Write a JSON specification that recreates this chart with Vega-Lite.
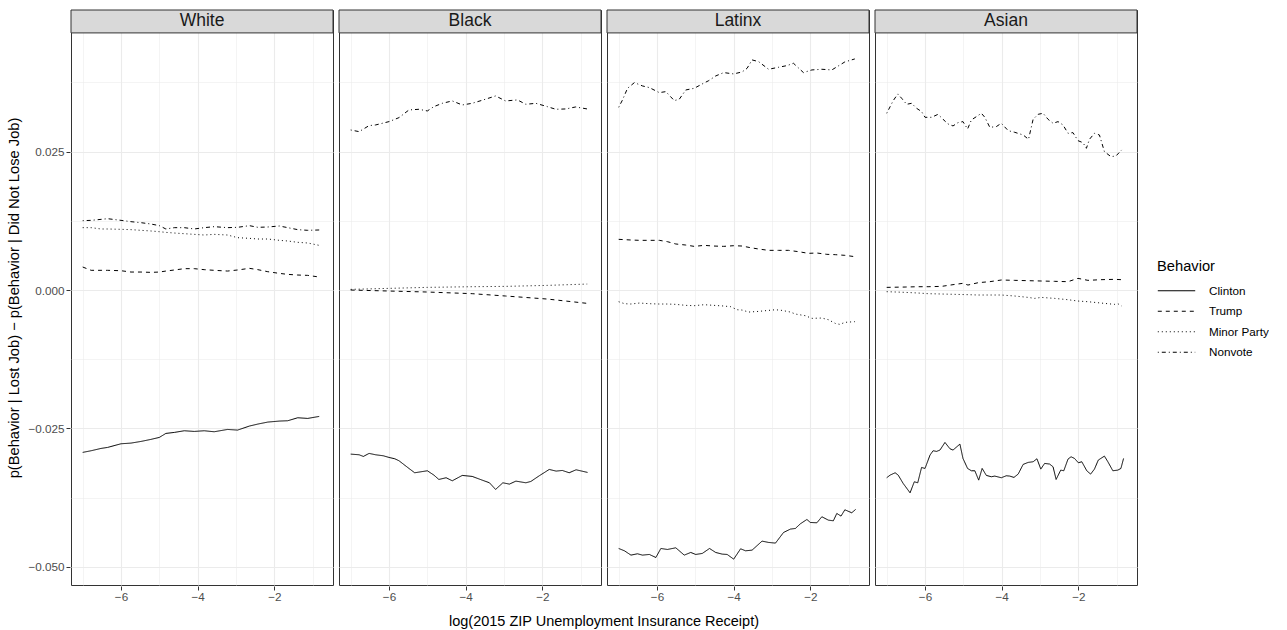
{
"$schema": "https://vega.github.io/schema/vega-lite/v6.json",
"padding": {"left": 6, "top": 9, "right": 0, "bottom": 0},
"config": {
  "font": "Liberation Sans",
  "view": {"stroke": "#333333", "strokeWidth": 1},
  "line": {"color": "black"}
},
"data": {"values": [
{"race":"White","Behavior":"Nonvote","x":-7.0,"y":0.01253},{"race":"White","Behavior":"Nonvote","x":-6.78,"y":0.01259},{"race":"White","Behavior":"Nonvote","x":-6.52,"y":0.01277},{"race":"White","Behavior":"Nonvote","x":-6.35,"y":0.01289},{"race":"White","Behavior":"Nonvote","x":-6.0,"y":0.01259},{"race":"White","Behavior":"Nonvote","x":-5.74,"y":0.01235},{"race":"White","Behavior":"Nonvote","x":-5.48,"y":0.01217},{"race":"White","Behavior":"Nonvote","x":-5.22,"y":0.01193},{"race":"White","Behavior":"Nonvote","x":-5.0,"y":0.01163},{"race":"White","Behavior":"Nonvote","x":-4.83,"y":0.01103},{"race":"White","Behavior":"Nonvote","x":-4.61,"y":0.01127},{"race":"White","Behavior":"Nonvote","x":-4.35,"y":0.01127},{"race":"White","Behavior":"Nonvote","x":-4.09,"y":0.01103},{"race":"White","Behavior":"Nonvote","x":-3.83,"y":0.01127},{"race":"White","Behavior":"Nonvote","x":-3.57,"y":0.01145},{"race":"White","Behavior":"Nonvote","x":-3.22,"y":0.01127},{"race":"White","Behavior":"Nonvote","x":-2.96,"y":0.01133},{"race":"White","Behavior":"Nonvote","x":-2.65,"y":0.01163},{"race":"White","Behavior":"Nonvote","x":-2.43,"y":0.01133},{"race":"White","Behavior":"Nonvote","x":-2.17,"y":0.01139},{"race":"White","Behavior":"Nonvote","x":-1.87,"y":0.01157},{"race":"White","Behavior":"Nonvote","x":-1.65,"y":0.01127},{"race":"White","Behavior":"Nonvote","x":-1.39,"y":0.01091},{"race":"White","Behavior":"Nonvote","x":-1.13,"y":0.01079},{"race":"White","Behavior":"Nonvote","x":-0.83,"y":0.01085},
{"race":"White","Behavior":"Minor Party","x":-7.0,"y":0.01127},{"race":"White","Behavior":"Minor Party","x":-6.78,"y":0.01127},{"race":"White","Behavior":"Minor Party","x":-6.52,"y":0.01103},{"race":"White","Behavior":"Minor Party","x":-6.35,"y":0.01103},{"race":"White","Behavior":"Minor Party","x":-6.0,"y":0.01097},{"race":"White","Behavior":"Minor Party","x":-5.74,"y":0.01091},{"race":"White","Behavior":"Minor Party","x":-5.48,"y":0.01079},{"race":"White","Behavior":"Minor Party","x":-5.22,"y":0.01067},{"race":"White","Behavior":"Minor Party","x":-5.0,"y":0.01054},{"race":"White","Behavior":"Minor Party","x":-4.83,"y":0.01042},{"race":"White","Behavior":"Minor Party","x":-4.61,"y":0.0103},{"race":"White","Behavior":"Minor Party","x":-4.35,"y":0.01018},{"race":"White","Behavior":"Minor Party","x":-4.09,"y":0.01006},{"race":"White","Behavior":"Minor Party","x":-3.83,"y":0.00994},{"race":"White","Behavior":"Minor Party","x":-3.57,"y":0.01006},{"race":"White","Behavior":"Minor Party","x":-3.22,"y":0.00994},{"race":"White","Behavior":"Minor Party","x":-2.96,"y":0.00946},{"race":"White","Behavior":"Minor Party","x":-2.65,"y":0.00934},{"race":"White","Behavior":"Minor Party","x":-2.43,"y":0.00922},{"race":"White","Behavior":"Minor Party","x":-2.17,"y":0.00922},{"race":"White","Behavior":"Minor Party","x":-1.87,"y":0.00898},{"race":"White","Behavior":"Minor Party","x":-1.65,"y":0.00886},{"race":"White","Behavior":"Minor Party","x":-1.39,"y":0.00862},{"race":"White","Behavior":"Minor Party","x":-1.13,"y":0.0085},{"race":"White","Behavior":"Minor Party","x":-0.83,"y":0.00807},
{"race":"White","Behavior":"Trump","x":-7.0,"y":0.00416},{"race":"White","Behavior":"Trump","x":-6.78,"y":0.00356},{"race":"White","Behavior":"Trump","x":-6.52,"y":0.00356},{"race":"White","Behavior":"Trump","x":-6.35,"y":0.00356},{"race":"White","Behavior":"Trump","x":-6.0,"y":0.00349},{"race":"White","Behavior":"Trump","x":-5.74,"y":0.00325},{"race":"White","Behavior":"Trump","x":-5.48,"y":0.00325},{"race":"White","Behavior":"Trump","x":-5.22,"y":0.00319},{"race":"White","Behavior":"Trump","x":-5.0,"y":0.00325},{"race":"White","Behavior":"Trump","x":-4.83,"y":0.00343},{"race":"White","Behavior":"Trump","x":-4.61,"y":0.00362},{"race":"White","Behavior":"Trump","x":-4.35,"y":0.00386},{"race":"White","Behavior":"Trump","x":-4.09,"y":0.00386},{"race":"White","Behavior":"Trump","x":-3.83,"y":0.00368},{"race":"White","Behavior":"Trump","x":-3.57,"y":0.00356},{"race":"White","Behavior":"Trump","x":-3.22,"y":0.00343},{"race":"White","Behavior":"Trump","x":-2.96,"y":0.00362},{"race":"White","Behavior":"Trump","x":-2.65,"y":0.00392},{"race":"White","Behavior":"Trump","x":-2.43,"y":0.00368},{"race":"White","Behavior":"Trump","x":-2.17,"y":0.00331},{"race":"White","Behavior":"Trump","x":-1.87,"y":0.00301},{"race":"White","Behavior":"Trump","x":-1.65,"y":0.00283},{"race":"White","Behavior":"Trump","x":-1.39,"y":0.00271},{"race":"White","Behavior":"Trump","x":-1.13,"y":0.00265},{"race":"White","Behavior":"Trump","x":-0.83,"y":0.00235},
{"race":"White","Behavior":"Clinton","x":-7.0,"y":-0.02934},{"race":"White","Behavior":"Clinton","x":-6.78,"y":-0.02904},{"race":"White","Behavior":"Clinton","x":-6.52,"y":-0.02862},{"race":"White","Behavior":"Clinton","x":-6.35,"y":-0.02844},{"race":"White","Behavior":"Clinton","x":-6.0,"y":-0.02778},{"race":"White","Behavior":"Clinton","x":-5.74,"y":-0.02766},{"race":"White","Behavior":"Clinton","x":-5.48,"y":-0.02736},{"race":"White","Behavior":"Clinton","x":-5.22,"y":-0.02699},{"race":"White","Behavior":"Clinton","x":-5.0,"y":-0.02663},{"race":"White","Behavior":"Clinton","x":-4.83,"y":-0.02591},{"race":"White","Behavior":"Clinton","x":-4.61,"y":-0.02573},{"race":"White","Behavior":"Clinton","x":-4.35,"y":-0.02543},{"race":"White","Behavior":"Clinton","x":-4.09,"y":-0.02555},{"race":"White","Behavior":"Clinton","x":-3.83,"y":-0.02543},{"race":"White","Behavior":"Clinton","x":-3.57,"y":-0.02561},{"race":"White","Behavior":"Clinton","x":-3.22,"y":-0.02519},{"race":"White","Behavior":"Clinton","x":-2.96,"y":-0.02531},{"race":"White","Behavior":"Clinton","x":-2.65,"y":-0.02458},{"race":"White","Behavior":"Clinton","x":-2.43,"y":-0.02422},{"race":"White","Behavior":"Clinton","x":-2.17,"y":-0.02386},{"race":"White","Behavior":"Clinton","x":-1.87,"y":-0.02368},{"race":"White","Behavior":"Clinton","x":-1.65,"y":-0.02362},{"race":"White","Behavior":"Clinton","x":-1.39,"y":-0.02308},{"race":"White","Behavior":"Clinton","x":-1.13,"y":-0.0232},{"race":"White","Behavior":"Clinton","x":-0.83,"y":-0.02284},
{"race":"Black","Behavior":"Nonvote","x":-7.0,"y":0.02892},{"race":"Black","Behavior":"Nonvote","x":-6.78,"y":0.02862},{"race":"Black","Behavior":"Nonvote","x":-6.52,"y":0.02971},{"race":"Black","Behavior":"Nonvote","x":-6.35,"y":0.02983},{"race":"Black","Behavior":"Nonvote","x":-6.0,"y":0.03043},{"race":"Black","Behavior":"Nonvote","x":-5.74,"y":0.03115},{"race":"Black","Behavior":"Nonvote","x":-5.48,"y":0.03254},{"race":"Black","Behavior":"Nonvote","x":-5.22,"y":0.03266},{"race":"Black","Behavior":"Nonvote","x":-5.0,"y":0.03236},{"race":"Black","Behavior":"Nonvote","x":-4.83,"y":0.03314},{"race":"Black","Behavior":"Nonvote","x":-4.61,"y":0.03374},{"race":"Black","Behavior":"Nonvote","x":-4.35,"y":0.03417},{"race":"Black","Behavior":"Nonvote","x":-4.09,"y":0.03344},{"race":"Black","Behavior":"Nonvote","x":-3.83,"y":0.03374},{"race":"Black","Behavior":"Nonvote","x":-3.57,"y":0.03429},{"race":"Black","Behavior":"Nonvote","x":-3.22,"y":0.03507},{"race":"Black","Behavior":"Nonvote","x":-2.96,"y":0.03417},{"race":"Black","Behavior":"Nonvote","x":-2.65,"y":0.03435},{"race":"Black","Behavior":"Nonvote","x":-2.43,"y":0.03356},{"race":"Black","Behavior":"Nonvote","x":-2.17,"y":0.03374},{"race":"Black","Behavior":"Nonvote","x":-1.87,"y":0.03314},{"race":"Black","Behavior":"Nonvote","x":-1.65,"y":0.03266},{"race":"Black","Behavior":"Nonvote","x":-1.39,"y":0.03272},{"race":"Black","Behavior":"Nonvote","x":-1.13,"y":0.03308},{"race":"Black","Behavior":"Nonvote","x":-0.83,"y":0.03272},
{"race":"Black","Behavior":"Minor Party","x":-7.0,"y":0.00012},{"race":"Black","Behavior":"Minor Party","x":-6.0,"y":0.0003},{"race":"Black","Behavior":"Minor Party","x":-5.0,"y":0.00048},{"race":"Black","Behavior":"Minor Party","x":-3.83,"y":0.0006},{"race":"Black","Behavior":"Minor Party","x":-2.96,"y":0.00066},{"race":"Black","Behavior":"Minor Party","x":-1.87,"y":0.00084},{"race":"Black","Behavior":"Minor Party","x":-0.83,"y":0.00108},
{"race":"Black","Behavior":"Trump","x":-7.0,"y":0.0},{"race":"Black","Behavior":"Trump","x":-6.0,"y":-0.00018},{"race":"Black","Behavior":"Trump","x":-5.0,"y":-0.00036},{"race":"Black","Behavior":"Trump","x":-3.83,"y":-0.00066},{"race":"Black","Behavior":"Trump","x":-2.96,"y":-0.00108},{"race":"Black","Behavior":"Trump","x":-1.87,"y":-0.00163},{"race":"Black","Behavior":"Trump","x":-0.83,"y":-0.00241},
{"race":"Black","Behavior":"Clinton","x":-7.0,"y":-0.02965},{"race":"Black","Behavior":"Clinton","x":-6.78,"y":-0.02977},{"race":"Black","Behavior":"Clinton","x":-6.67,"y":-0.03007},{"race":"Black","Behavior":"Clinton","x":-6.52,"y":-0.02952},{"race":"Black","Behavior":"Clinton","x":-6.35,"y":-0.02977},{"race":"Black","Behavior":"Clinton","x":-6.15,"y":-0.02995},{"race":"Black","Behavior":"Clinton","x":-6.0,"y":-0.03025},{"race":"Black","Behavior":"Clinton","x":-5.85,"y":-0.03049},{"race":"Black","Behavior":"Clinton","x":-5.74,"y":-0.03085},{"race":"Black","Behavior":"Clinton","x":-5.48,"y":-0.03224},{"race":"Black","Behavior":"Clinton","x":-5.33,"y":-0.03302},{"race":"Black","Behavior":"Clinton","x":-5.22,"y":-0.0329},{"race":"Black","Behavior":"Clinton","x":-5.0,"y":-0.03266},{"race":"Black","Behavior":"Clinton","x":-4.83,"y":-0.03344},{"race":"Black","Behavior":"Clinton","x":-4.7,"y":-0.03423},{"race":"Black","Behavior":"Clinton","x":-4.51,"y":-0.03392},{"race":"Black","Behavior":"Clinton","x":-4.35,"y":-0.03447},{"race":"Black","Behavior":"Clinton","x":-4.09,"y":-0.0335},{"race":"Black","Behavior":"Clinton","x":-3.83,"y":-0.03368},{"race":"Black","Behavior":"Clinton","x":-3.57,"y":-0.03435},{"race":"Black","Behavior":"Clinton","x":-3.38,"y":-0.03483},{"race":"Black","Behavior":"Clinton","x":-3.22,"y":-0.03603},{"race":"Black","Behavior":"Clinton","x":-3.03,"y":-0.03483},{"race":"Black","Behavior":"Clinton","x":-2.86,"y":-0.03507},{"race":"Black","Behavior":"Clinton","x":-2.69,"y":-0.03453},{"race":"Black","Behavior":"Clinton","x":-2.43,"y":-0.03483},{"race":"Black","Behavior":"Clinton","x":-2.3,"y":-0.03459},{"race":"Black","Behavior":"Clinton","x":-2.08,"y":-0.03356},{"race":"Black","Behavior":"Clinton","x":-1.82,"y":-0.03242},{"race":"Black","Behavior":"Clinton","x":-1.64,"y":-0.03272},{"race":"Black","Behavior":"Clinton","x":-1.48,"y":-0.0326},{"race":"Black","Behavior":"Clinton","x":-1.3,"y":-0.03302},{"race":"Black","Behavior":"Clinton","x":-1.12,"y":-0.03248},{"race":"Black","Behavior":"Clinton","x":-0.82,"y":-0.03296},
{"race":"Latinx","Behavior":"Nonvote","x":-7.0,"y":0.03302},{"race":"Latinx","Behavior":"Nonvote","x":-6.9,"y":0.03435},{"race":"Latinx","Behavior":"Nonvote","x":-6.77,"y":0.03645},{"race":"Latinx","Behavior":"Nonvote","x":-6.59,"y":0.03748},{"race":"Latinx","Behavior":"Nonvote","x":-6.38,"y":0.03688},{"race":"Latinx","Behavior":"Nonvote","x":-6.2,"y":0.03658},{"race":"Latinx","Behavior":"Nonvote","x":-5.94,"y":0.03567},{"race":"Latinx","Behavior":"Nonvote","x":-5.77,"y":0.03585},{"race":"Latinx","Behavior":"Nonvote","x":-5.55,"y":0.03423},{"race":"Latinx","Behavior":"Nonvote","x":-5.42,"y":0.03447},{"race":"Latinx","Behavior":"Nonvote","x":-5.25,"y":0.03615},{"race":"Latinx","Behavior":"Nonvote","x":-5.03,"y":0.03645},{"race":"Latinx","Behavior":"Nonvote","x":-4.82,"y":0.03724},{"race":"Latinx","Behavior":"Nonvote","x":-4.65,"y":0.03784},{"race":"Latinx","Behavior":"Nonvote","x":-4.47,"y":0.03868},{"race":"Latinx","Behavior":"Nonvote","x":-4.26,"y":0.03929},{"race":"Latinx","Behavior":"Nonvote","x":-4.0,"y":0.03905},{"race":"Latinx","Behavior":"Nonvote","x":-3.78,"y":0.03941},{"race":"Latinx","Behavior":"Nonvote","x":-3.65,"y":0.04007},{"race":"Latinx","Behavior":"Nonvote","x":-3.52,"y":0.04158},{"race":"Latinx","Behavior":"Nonvote","x":-3.35,"y":0.04127},{"race":"Latinx","Behavior":"Nonvote","x":-3.09,"y":0.03989},{"race":"Latinx","Behavior":"Nonvote","x":-2.83,"y":0.04025},{"race":"Latinx","Behavior":"Nonvote","x":-2.61,"y":0.04055},{"race":"Latinx","Behavior":"Nonvote","x":-2.44,"y":0.04097},{"race":"Latinx","Behavior":"Nonvote","x":-2.18,"y":0.03929},{"race":"Latinx","Behavior":"Nonvote","x":-1.96,"y":0.03977},{"race":"Latinx","Behavior":"Nonvote","x":-1.7,"y":0.03989},{"race":"Latinx","Behavior":"Nonvote","x":-1.44,"y":0.03977},{"race":"Latinx","Behavior":"Nonvote","x":-1.27,"y":0.04049},{"race":"Latinx","Behavior":"Nonvote","x":-1.1,"y":0.04122},{"race":"Latinx","Behavior":"Nonvote","x":-0.84,"y":0.04176},
{"race":"Latinx","Behavior":"Trump","x":-7.0,"y":0.00916},{"race":"Latinx","Behavior":"Trump","x":-6.68,"y":0.00904},{"race":"Latinx","Behavior":"Trump","x":-6.46,"y":0.00898},{"race":"Latinx","Behavior":"Trump","x":-6.2,"y":0.00898},{"race":"Latinx","Behavior":"Trump","x":-5.94,"y":0.00898},{"race":"Latinx","Behavior":"Trump","x":-5.73,"y":0.00874},{"race":"Latinx","Behavior":"Trump","x":-5.51,"y":0.00832},{"race":"Latinx","Behavior":"Trump","x":-5.25,"y":0.00813},{"race":"Latinx","Behavior":"Trump","x":-5.03,"y":0.00789},{"race":"Latinx","Behavior":"Trump","x":-4.77,"y":0.00807},{"race":"Latinx","Behavior":"Trump","x":-4.52,"y":0.00795},{"race":"Latinx","Behavior":"Trump","x":-4.26,"y":0.00789},{"race":"Latinx","Behavior":"Trump","x":-4.0,"y":0.00801},{"race":"Latinx","Behavior":"Trump","x":-3.78,"y":0.00795},{"race":"Latinx","Behavior":"Trump","x":-3.56,"y":0.00765},{"race":"Latinx","Behavior":"Trump","x":-3.35,"y":0.00741},{"race":"Latinx","Behavior":"Trump","x":-3.09,"y":0.00717},{"race":"Latinx","Behavior":"Trump","x":-2.83,"y":0.00717},{"race":"Latinx","Behavior":"Trump","x":-2.57,"y":0.00717},{"race":"Latinx","Behavior":"Trump","x":-2.31,"y":0.00693},{"race":"Latinx","Behavior":"Trump","x":-2.05,"y":0.00663},{"race":"Latinx","Behavior":"Trump","x":-1.83,"y":0.00669},{"race":"Latinx","Behavior":"Trump","x":-1.57,"y":0.00645},{"race":"Latinx","Behavior":"Trump","x":-1.35,"y":0.00639},{"race":"Latinx","Behavior":"Trump","x":-1.1,"y":0.00627},{"race":"Latinx","Behavior":"Trump","x":-0.84,"y":0.00603},
{"race":"Latinx","Behavior":"Minor Party","x":-7.0,"y":-0.00211},{"race":"Latinx","Behavior":"Minor Party","x":-6.85,"y":-0.00247},{"race":"Latinx","Behavior":"Minor Party","x":-6.68,"y":-0.00253},{"race":"Latinx","Behavior":"Minor Party","x":-6.46,"y":-0.00235},{"race":"Latinx","Behavior":"Minor Party","x":-6.2,"y":-0.00247},{"race":"Latinx","Behavior":"Minor Party","x":-5.94,"y":-0.00253},{"race":"Latinx","Behavior":"Minor Party","x":-5.73,"y":-0.00253},{"race":"Latinx","Behavior":"Minor Party","x":-5.51,"y":-0.00259},{"race":"Latinx","Behavior":"Minor Party","x":-5.25,"y":-0.00277},{"race":"Latinx","Behavior":"Minor Party","x":-5.03,"y":-0.00283},{"race":"Latinx","Behavior":"Minor Party","x":-4.77,"y":-0.00265},{"race":"Latinx","Behavior":"Minor Party","x":-4.52,"y":-0.00277},{"race":"Latinx","Behavior":"Minor Party","x":-4.26,"y":-0.00289},{"race":"Latinx","Behavior":"Minor Party","x":-4.08,"y":-0.00301},{"race":"Latinx","Behavior":"Minor Party","x":-3.91,"y":-0.00356},{"race":"Latinx","Behavior":"Minor Party","x":-3.78,"y":-0.00362},{"race":"Latinx","Behavior":"Minor Party","x":-3.61,"y":-0.00398},{"race":"Latinx","Behavior":"Minor Party","x":-3.35,"y":-0.00386},{"race":"Latinx","Behavior":"Minor Party","x":-3.09,"y":-0.00368},{"race":"Latinx","Behavior":"Minor Party","x":-2.91,"y":-0.00356},{"race":"Latinx","Behavior":"Minor Party","x":-2.74,"y":-0.00368},{"race":"Latinx","Behavior":"Minor Party","x":-2.52,"y":-0.00398},{"race":"Latinx","Behavior":"Minor Party","x":-2.39,"y":-0.00434},{"race":"Latinx","Behavior":"Minor Party","x":-2.13,"y":-0.00464},{"race":"Latinx","Behavior":"Minor Party","x":-1.96,"y":-0.00512},{"race":"Latinx","Behavior":"Minor Party","x":-1.7,"y":-0.00506},{"race":"Latinx","Behavior":"Minor Party","x":-1.53,"y":-0.00536},{"race":"Latinx","Behavior":"Minor Party","x":-1.35,"y":-0.00603},{"race":"Latinx","Behavior":"Minor Party","x":-1.23,"y":-0.00621},{"race":"Latinx","Behavior":"Minor Party","x":-1.1,"y":-0.00584},{"race":"Latinx","Behavior":"Minor Party","x":-0.84,"y":-0.00572},
{"race":"Latinx","Behavior":"Clinton","x":-7.0,"y":-0.0467},{"race":"Latinx","Behavior":"Clinton","x":-6.85,"y":-0.04712},{"race":"Latinx","Behavior":"Clinton","x":-6.68,"y":-0.0479},{"race":"Latinx","Behavior":"Clinton","x":-6.51,"y":-0.04766},{"race":"Latinx","Behavior":"Clinton","x":-6.38,"y":-0.0479},{"race":"Latinx","Behavior":"Clinton","x":-6.2,"y":-0.04778},{"race":"Latinx","Behavior":"Clinton","x":-6.03,"y":-0.04833},{"race":"Latinx","Behavior":"Clinton","x":-5.9,"y":-0.0467},{"race":"Latinx","Behavior":"Clinton","x":-5.73,"y":-0.04688},{"race":"Latinx","Behavior":"Clinton","x":-5.51,"y":-0.04658},{"race":"Latinx","Behavior":"Clinton","x":-5.29,"y":-0.0479},{"race":"Latinx","Behavior":"Clinton","x":-5.12,"y":-0.04742},{"race":"Latinx","Behavior":"Clinton","x":-4.99,"y":-0.04778},{"race":"Latinx","Behavior":"Clinton","x":-4.82,"y":-0.0476},{"race":"Latinx","Behavior":"Clinton","x":-4.63,"y":-0.0467},{"race":"Latinx","Behavior":"Clinton","x":-4.47,"y":-0.04742},{"race":"Latinx","Behavior":"Clinton","x":-4.3,"y":-0.04772},{"race":"Latinx","Behavior":"Clinton","x":-4.17,"y":-0.04778},{"race":"Latinx","Behavior":"Clinton","x":-4.0,"y":-0.04863},{"race":"Latinx","Behavior":"Clinton","x":-3.82,"y":-0.04676},{"race":"Latinx","Behavior":"Clinton","x":-3.69,"y":-0.04712},{"race":"Latinx","Behavior":"Clinton","x":-3.52,"y":-0.047},{"race":"Latinx","Behavior":"Clinton","x":-3.26,"y":-0.04537},{"race":"Latinx","Behavior":"Clinton","x":-3.09,"y":-0.04561},{"race":"Latinx","Behavior":"Clinton","x":-2.91,"y":-0.04573},{"race":"Latinx","Behavior":"Clinton","x":-2.7,"y":-0.04381},{"race":"Latinx","Behavior":"Clinton","x":-2.52,"y":-0.0432},{"race":"Latinx","Behavior":"Clinton","x":-2.39,"y":-0.04308},{"race":"Latinx","Behavior":"Clinton","x":-2.26,"y":-0.04224},{"race":"Latinx","Behavior":"Clinton","x":-2.09,"y":-0.04146},{"race":"Latinx","Behavior":"Clinton","x":-2.0,"y":-0.042},{"race":"Latinx","Behavior":"Clinton","x":-1.83,"y":-0.04206},{"race":"Latinx","Behavior":"Clinton","x":-1.7,"y":-0.04097},{"race":"Latinx","Behavior":"Clinton","x":-1.53,"y":-0.04158},{"race":"Latinx","Behavior":"Clinton","x":-1.4,"y":-0.0417},{"race":"Latinx","Behavior":"Clinton","x":-1.31,"y":-0.04037},{"race":"Latinx","Behavior":"Clinton","x":-1.2,"y":-0.04085},{"race":"Latinx","Behavior":"Clinton","x":-1.1,"y":-0.03971},{"race":"Latinx","Behavior":"Clinton","x":-0.92,"y":-0.04025},{"race":"Latinx","Behavior":"Clinton","x":-0.82,"y":-0.03965},
{"race":"Asian","Behavior":"Nonvote","x":-7.0,"y":0.03194},{"race":"Asian","Behavior":"Nonvote","x":-6.91,"y":0.03314},{"race":"Asian","Behavior":"Nonvote","x":-6.83,"y":0.03422},{"race":"Asian","Behavior":"Nonvote","x":-6.71,"y":0.03543},{"race":"Asian","Behavior":"Nonvote","x":-6.61,"y":0.03465},{"race":"Asian","Behavior":"Nonvote","x":-6.48,"y":0.03356},{"race":"Asian","Behavior":"Nonvote","x":-6.35,"y":0.03374},{"race":"Asian","Behavior":"Nonvote","x":-6.22,"y":0.03284},{"race":"Asian","Behavior":"Nonvote","x":-6.09,"y":0.03224},{"race":"Asian","Behavior":"Nonvote","x":-6.0,"y":0.03121},{"race":"Asian","Behavior":"Nonvote","x":-5.83,"y":0.03121},{"race":"Asian","Behavior":"Nonvote","x":-5.66,"y":0.03175},{"race":"Asian","Behavior":"Nonvote","x":-5.53,"y":0.03085},{"race":"Asian","Behavior":"Nonvote","x":-5.4,"y":0.03001},{"race":"Asian","Behavior":"Nonvote","x":-5.27,"y":0.02965},{"race":"Asian","Behavior":"Nonvote","x":-5.14,"y":0.03025},{"race":"Asian","Behavior":"Nonvote","x":-5.01,"y":0.03043},{"race":"Asian","Behavior":"Nonvote","x":-4.89,"y":0.0291},{"race":"Asian","Behavior":"Nonvote","x":-4.79,"y":0.03073},{"race":"Asian","Behavior":"Nonvote","x":-4.66,"y":0.03133},{"race":"Asian","Behavior":"Nonvote","x":-4.53,"y":0.03194},{"race":"Asian","Behavior":"Nonvote","x":-4.44,"y":0.03121},{"race":"Asian","Behavior":"Nonvote","x":-4.31,"y":0.0294},{"race":"Asian","Behavior":"Nonvote","x":-4.14,"y":0.02953},{"race":"Asian","Behavior":"Nonvote","x":-4.01,"y":0.03013},{"race":"Asian","Behavior":"Nonvote","x":-3.83,"y":0.0288},{"race":"Asian","Behavior":"Nonvote","x":-3.66,"y":0.0285},{"race":"Asian","Behavior":"Nonvote","x":-3.44,"y":0.02802},{"race":"Asian","Behavior":"Nonvote","x":-3.3,"y":0.02724},{"race":"Asian","Behavior":"Nonvote","x":-3.18,"y":0.03085},{"race":"Asian","Behavior":"Nonvote","x":-3.05,"y":0.03175},{"race":"Asian","Behavior":"Nonvote","x":-2.92,"y":0.03194},{"race":"Asian","Behavior":"Nonvote","x":-2.79,"y":0.03085},{"race":"Asian","Behavior":"Nonvote","x":-2.66,"y":0.03013},{"race":"Asian","Behavior":"Nonvote","x":-2.53,"y":0.03043},{"race":"Asian","Behavior":"Nonvote","x":-2.4,"y":0.02983},{"race":"Asian","Behavior":"Nonvote","x":-2.27,"y":0.02832},{"race":"Asian","Behavior":"Nonvote","x":-2.14,"y":0.02844},{"race":"Asian","Behavior":"Nonvote","x":-2.01,"y":0.02699},{"race":"Asian","Behavior":"Nonvote","x":-1.88,"y":0.02663},{"race":"Asian","Behavior":"Nonvote","x":-1.79,"y":0.02561},{"race":"Asian","Behavior":"Nonvote","x":-1.71,"y":0.02724},{"race":"Asian","Behavior":"Nonvote","x":-1.58,"y":0.02832},{"race":"Asian","Behavior":"Nonvote","x":-1.45,"y":0.02802},{"race":"Asian","Behavior":"Nonvote","x":-1.32,"y":0.02501},{"race":"Asian","Behavior":"Nonvote","x":-1.15,"y":0.0241},{"race":"Asian","Behavior":"Nonvote","x":-1.02,"y":0.02422},{"race":"Asian","Behavior":"Nonvote","x":-0.87,"y":0.02531},
{"race":"Asian","Behavior":"Trump","x":-7.0,"y":0.00048},{"race":"Asian","Behavior":"Trump","x":-6.52,"y":0.00054},{"race":"Asian","Behavior":"Trump","x":-6.18,"y":0.0006},{"race":"Asian","Behavior":"Trump","x":-5.92,"y":0.0006},{"race":"Asian","Behavior":"Trump","x":-5.57,"y":0.00066},{"race":"Asian","Behavior":"Trump","x":-5.22,"y":0.00102},{"race":"Asian","Behavior":"Trump","x":-5.01,"y":0.00121},{"race":"Asian","Behavior":"Trump","x":-4.88,"y":0.0009},{"race":"Asian","Behavior":"Trump","x":-4.61,"y":0.00133},{"race":"Asian","Behavior":"Trump","x":-4.31,"y":0.00151},{"race":"Asian","Behavior":"Trump","x":-4.01,"y":0.00181},{"race":"Asian","Behavior":"Trump","x":-3.66,"y":0.00175},{"race":"Asian","Behavior":"Trump","x":-3.31,"y":0.00169},{"race":"Asian","Behavior":"Trump","x":-2.97,"y":0.00163},{"race":"Asian","Behavior":"Trump","x":-2.62,"y":0.00157},{"race":"Asian","Behavior":"Trump","x":-2.27,"y":0.00151},{"race":"Asian","Behavior":"Trump","x":-2.01,"y":0.00211},{"race":"Asian","Behavior":"Trump","x":-1.75,"y":0.00175},{"race":"Asian","Behavior":"Trump","x":-1.41,"y":0.00187},{"race":"Asian","Behavior":"Trump","x":-1.06,"y":0.00193},{"race":"Asian","Behavior":"Trump","x":-0.87,"y":0.00187},
{"race":"Asian","Behavior":"Minor Party","x":-7.0,"y":-0.0003},{"race":"Asian","Behavior":"Minor Party","x":-6.52,"y":-0.00042},{"race":"Asian","Behavior":"Minor Party","x":-6.18,"y":-0.00054},{"race":"Asian","Behavior":"Minor Party","x":-5.92,"y":-0.00066},{"race":"Asian","Behavior":"Minor Party","x":-5.57,"y":-0.00072},{"race":"Asian","Behavior":"Minor Party","x":-5.22,"y":-0.00078},{"race":"Asian","Behavior":"Minor Party","x":-4.88,"y":-0.00084},{"race":"Asian","Behavior":"Minor Party","x":-4.61,"y":-0.0009},{"race":"Asian","Behavior":"Minor Party","x":-4.31,"y":-0.0009},{"race":"Asian","Behavior":"Minor Party","x":-4.01,"y":-0.0009},{"race":"Asian","Behavior":"Minor Party","x":-3.66,"y":-0.00108},{"race":"Asian","Behavior":"Minor Party","x":-3.31,"y":-0.00133},{"race":"Asian","Behavior":"Minor Party","x":-3.14,"y":-0.00151},{"race":"Asian","Behavior":"Minor Party","x":-2.97,"y":-0.00133},{"race":"Asian","Behavior":"Minor Party","x":-2.62,"y":-0.00151},{"race":"Asian","Behavior":"Minor Party","x":-2.27,"y":-0.00175},{"race":"Asian","Behavior":"Minor Party","x":-2.01,"y":-0.00199},{"race":"Asian","Behavior":"Minor Party","x":-1.75,"y":-0.00211},{"race":"Asian","Behavior":"Minor Party","x":-1.41,"y":-0.00235},{"race":"Asian","Behavior":"Minor Party","x":-1.06,"y":-0.00259},{"race":"Asian","Behavior":"Minor Party","x":-0.97,"y":-0.00247},{"race":"Asian","Behavior":"Minor Party","x":-0.87,"y":-0.00289},
{"race":"Asian","Behavior":"Clinton","x":-7.0,"y":-0.03392},{"race":"Asian","Behavior":"Clinton","x":-6.91,"y":-0.03344},{"race":"Asian","Behavior":"Clinton","x":-6.78,"y":-0.03302},{"race":"Asian","Behavior":"Clinton","x":-6.7,"y":-0.03344},{"race":"Asian","Behavior":"Clinton","x":-6.57,"y":-0.03495},{"race":"Asian","Behavior":"Clinton","x":-6.39,"y":-0.03664},{"race":"Asian","Behavior":"Clinton","x":-6.28,"y":-0.03465},{"race":"Asian","Behavior":"Clinton","x":-6.19,"y":-0.03483},{"race":"Asian","Behavior":"Clinton","x":-6.09,"y":-0.03206},{"race":"Asian","Behavior":"Clinton","x":-6.0,"y":-0.03224},{"race":"Asian","Behavior":"Clinton","x":-5.87,"y":-0.02983},{"race":"Asian","Behavior":"Clinton","x":-5.79,"y":-0.02904},{"race":"Asian","Behavior":"Clinton","x":-5.7,"y":-0.02916},{"race":"Asian","Behavior":"Clinton","x":-5.61,"y":-0.02892},{"race":"Asian","Behavior":"Clinton","x":-5.48,"y":-0.02754},{"race":"Asian","Behavior":"Clinton","x":-5.35,"y":-0.02868},{"race":"Asian","Behavior":"Clinton","x":-5.27,"y":-0.02892},{"race":"Asian","Behavior":"Clinton","x":-5.09,"y":-0.02784},{"race":"Asian","Behavior":"Clinton","x":-5.01,"y":-0.03043},{"race":"Asian","Behavior":"Clinton","x":-4.89,"y":-0.03224},{"race":"Asian","Behavior":"Clinton","x":-4.79,"y":-0.03266},{"race":"Asian","Behavior":"Clinton","x":-4.7,"y":-0.03266},{"race":"Asian","Behavior":"Clinton","x":-4.6,"y":-0.03435},{"race":"Asian","Behavior":"Clinton","x":-4.51,"y":-0.03224},{"race":"Asian","Behavior":"Clinton","x":-4.4,"y":-0.0335},{"race":"Asian","Behavior":"Clinton","x":-4.27,"y":-0.03374},{"race":"Asian","Behavior":"Clinton","x":-4.18,"y":-0.03362},{"race":"Asian","Behavior":"Clinton","x":-4.01,"y":-0.03392},{"race":"Asian","Behavior":"Clinton","x":-3.88,"y":-0.03356},{"race":"Asian","Behavior":"Clinton","x":-3.79,"y":-0.03362},{"race":"Asian","Behavior":"Clinton","x":-3.68,"y":-0.03386},{"race":"Asian","Behavior":"Clinton","x":-3.57,"y":-0.03326},{"race":"Asian","Behavior":"Clinton","x":-3.44,"y":-0.03151},{"race":"Asian","Behavior":"Clinton","x":-3.31,"y":-0.03115},{"race":"Asian","Behavior":"Clinton","x":-3.18,"y":-0.03103},{"race":"Asian","Behavior":"Clinton","x":-3.08,"y":-0.03049},{"race":"Asian","Behavior":"Clinton","x":-2.98,"y":-0.03236},{"race":"Asian","Behavior":"Clinton","x":-2.88,"y":-0.03133},{"race":"Asian","Behavior":"Clinton","x":-2.75,"y":-0.03145},{"race":"Asian","Behavior":"Clinton","x":-2.66,"y":-0.03194},{"race":"Asian","Behavior":"Clinton","x":-2.58,"y":-0.03423},{"race":"Asian","Behavior":"Clinton","x":-2.46,"y":-0.03254},{"race":"Asian","Behavior":"Clinton","x":-2.38,"y":-0.03266},{"race":"Asian","Behavior":"Clinton","x":-2.27,"y":-0.03055},{"race":"Asian","Behavior":"Clinton","x":-2.19,"y":-0.03013},{"race":"Asian","Behavior":"Clinton","x":-2.1,"y":-0.03043},{"race":"Asian","Behavior":"Clinton","x":-2.0,"y":-0.03121},{"race":"Asian","Behavior":"Clinton","x":-1.91,"y":-0.03103},{"race":"Asian","Behavior":"Clinton","x":-1.78,"y":-0.03266},{"race":"Asian","Behavior":"Clinton","x":-1.68,"y":-0.03326},{"race":"Asian","Behavior":"Clinton","x":-1.58,"y":-0.03236},{"race":"Asian","Behavior":"Clinton","x":-1.48,"y":-0.03073},{"race":"Asian","Behavior":"Clinton","x":-1.32,"y":-0.03001},{"race":"Asian","Behavior":"Clinton","x":-1.23,"y":-0.03103},{"race":"Asian","Behavior":"Clinton","x":-1.1,"y":-0.03266},{"race":"Asian","Behavior":"Clinton","x":-0.97,"y":-0.03254},{"race":"Asian","Behavior":"Clinton","x":-0.89,"y":-0.03224},{"race":"Asian","Behavior":"Clinton","x":-0.82,"y":-0.03043}
]},
"spacing": 4,
"facet": {"column": {"field": "race", "type": "nominal", "sort": ["White", "Black", "Latinx", "Asian"],
  "header": {"labels": false, "title": "log(2015 ZIP Unemployment Insurance Receipt)", "titleOrient": "bottom", "titleFontSize": 14.5, "titleFontWeight": "normal", "titleColor": "#000000", "titlePadding": 2, "titleFont": "Liberation Sans"}}},
"spec": {
  "width": 262,
  "height": 575,
  "layer": [
    {
      "mark": {"type": "line", "color": "black", "strokeWidth": 1},
      "encoding": {
        "x": {"field": "x", "type": "quantitative",
          "scale": {"domain": [-7.305, -0.47], "nice": false, "zero": false},
          "axis": {"title": null, "values": [-7, -6, -5, -4, -3, -2, -1],
            "labelExpr": "abs(datum.value) % 2 == 1 ? '' : datum.label",
            "domain": false, "tickColor": "#333333", "tickSize": 4, "tickWidth": 1,
            "tickOpacity": {"condition": {"test": "abs(datum.value) % 2 == 1", "value": 0}, "value": 1},
            "labelColor": "#4d4d4d", "labelFontSize": 11.7, "labelPadding": 1,
            "gridColor": "#ebebeb",
            "gridWidth": {"condition": {"test": "abs(datum.value) % 2 == 1", "value": 0.55}, "value": 1.1}}},
        "y": {"field": "y", "type": "quantitative",
          "scale": {"domain": [-0.0533, 0.0506], "nice": false, "zero": false},
          "axis": {"title": "p(Behavior | Lost Job) − p(Behavior | Did Not Lose Job)",
            "values": [-0.05, -0.0375, -0.025, -0.0125, 0, 0.0125, 0.025, 0.0375],
            "format": ".3f",
            "labelExpr": "abs(round(datum.value*10000)) % 250 != 0 ? '' : datum.label",
            "domain": false, "tickColor": "#333333", "tickSize": 4, "tickWidth": 1,
            "tickOpacity": {"condition": {"test": "abs(round(datum.value*10000)) % 250 != 0", "value": 0}, "value": 1},
            "labelColor": "#4d4d4d", "labelFontSize": 11.7, "labelPadding": 2,
            "titleFontSize": 14.7, "titleFontWeight": "normal", "titleColor": "#000000", "titlePadding": 6,
            "gridColor": "#ebebeb",
            "gridWidth": {"condition": {"test": "abs(round(datum.value*10000)) % 250 != 0", "value": 0.55}, "value": 1.1}}},
        "strokeDash": {"field": "Behavior", "type": "nominal",
          "scale": {"domain": ["Clinton", "Trump", "Minor Party", "Nonvote"], "range": [[1, 0], [4, 4], [1, 3], [1, 3, 4, 3]]},
          "legend": {"title": "Behavior", "orient": "none", "legendX": 1086, "legendY": 249,
            "titleFontSize": 14.7, "titleFontWeight": "normal", "titleColor": "#000000", "titlePadding": 11,
            "labelFontSize": 11.7, "labelColor": "#000000", "labelOffset": 13,
            "symbolType": "stroke", "symbolSize": 1400, "symbolStrokeWidth": 1.1, "symbolStrokeColor": "#000000",
            "clipHeight": 12, "rowPadding": 7.5}}
      }
    },
    {
      "transform": [{"aggregate": [{"op": "count", "as": "n"}], "groupby": ["race"]}],
      "mark": {"type": "rect", "fill": "#d9d9d9", "stroke": "#333333", "strokeWidth": 1},
      "encoding": {
        "x": {"datum": -7.305}, "x2": {"datum": -0.47},
        "y": {"datum": 0.04646}, "y2": {"datum": 0.0506}
      }
    },
    {
      "transform": [{"aggregate": [{"op": "count", "as": "n"}], "groupby": ["race"]}],
      "mark": {"type": "text", "fontSize": 17.5, "color": "#1a1a1a", "baseline": "middle", "align": "center"},
      "encoding": {
        "x": {"datum": -3.8875},
        "y": {"datum": 0.04853},
        "text": {"field": "race", "type": "nominal"}
      }
    }
  ]
}
}
